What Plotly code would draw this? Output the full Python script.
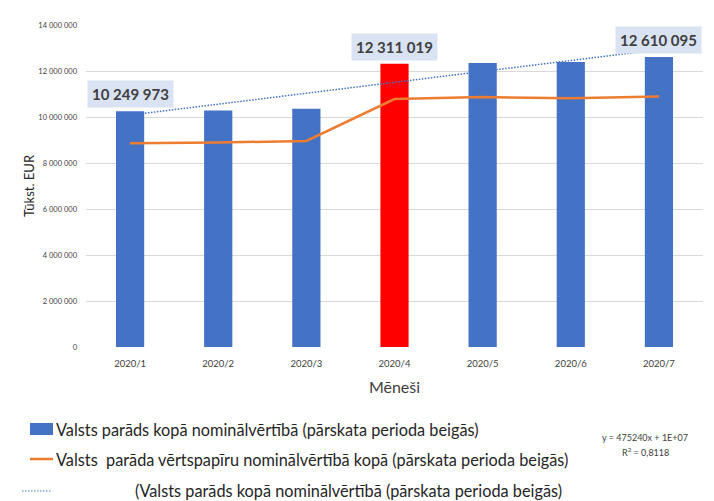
import numpy as np
import plotly.graph_objects as go

months = ["2020/1", "2020/2", "2020/3", "2020/4", "2020/5", "2020/6", "2020/7"]
debt_total = [10249973, 10280000, 10360000, 12311019, 12350000, 12390000, 12610095]
securities = [8860000, 8890000, 8960000, 10780000, 10870000, 10810000, 10890000]
bar_colors = ["#4472c4", "#4472c4", "#4472c4", "#ff0000", "#4472c4", "#4472c4", "#4472c4"]
labeled = [0, 3, 6]
y_ticks = [0, 2000000, 4000000, 6000000, 8000000, 10000000, 12000000, 14000000]

name_bar = "Valsts parāds kopā nominālvērtībā (pārskata perioda beigās)"
name_line = "Valsts  parāda vērtspapīru nominālvērtībā kopā (pārskata perioda beigās)"
name_trend = "(Valsts parāds kopā nominālvērtībā (pārskata perioda beigās)"
eq_text = "y = 475240x + 1E+07"
r2_text = "R<sup>2</sup> = 0,8118"

OFF = 8  # page body margin
W, H = 706, 493
L, R, T, B = 78, 11, 17, 154
PW, PH = W - L - R, H - T - B

def fx(px):
    return (px - OFF - L) / PW

def fy(py):
    return (H - B - (py - OFF)) / PH

FONT = "Lato, Carlito, Calibri, sans-serif"
TXT = "#262626"

xs = np.arange(1, len(months) + 1)
coef = np.polyfit(xs, debt_total, 1)
trend = np.polyval(coef, xs)

fig = go.Figure()
fig.add_trace(go.Bar(x=xs, y=debt_total, marker=dict(color=bar_colors, line=dict(width=0)),
                     width=0.32, name=name_bar, showlegend=False))
fig.add_trace(go.Scatter(x=xs, y=trend, mode="lines", line=dict(color="#4472c4", width=1.5, dash="1.5px,1.5px"),
                         name=name_trend, showlegend=False))
fig.add_trace(go.Scatter(x=xs, y=securities, mode="lines", line=dict(color="#ed7d31", width=2.5),
                         name=name_line, showlegend=False))

for i in labeled:
    v = debt_total[i]
    fig.add_annotation(x=xs[i], y=v, xref="x", yref="y",
                       text="<b>" + f"{v:,}".replace(",", " ") + "</b>",
                       showarrow=False, yanchor="middle", yshift=17,
                       font=dict(family=FONT, size=15, color="#404040"),
                       bgcolor="#dae3f3", borderpad=4)

# manual legend
fig.add_shape(type="rect", xref="paper", yref="paper", x0=fx(30), x1=fx(53), y0=fy(435), y1=fy(423),
              fillcolor="#4472c4", line=dict(width=0))
fig.add_shape(type="line", xref="paper", yref="paper", x0=fx(30), x1=fx(53), y0=fy(459), y1=fy(459),
              line=dict(color="#ed7d31", width=2.5))
fig.add_shape(type="line", xref="paper", yref="paper", x0=fx(22), x1=fx(52), y0=fy(491), y1=fy(491),
              line=dict(color="#4472c4", width=1.2, dash="1.5px,1.5px"))
for txt, px, py in [(name_bar, 54, 429), (name_line, 54, 459), (name_trend, 133, 490)]:
    fig.add_annotation(x=fx(px), y=fy(py), xref="paper", yref="paper", text=txt, showarrow=False,
                       xanchor="left", yanchor="middle",
                       font=dict(family=FONT, size=16.3, color=TXT))
fig.add_annotation(x=fx(645), y=fy(437), xref="paper", yref="paper", text=eq_text, showarrow=False,
                   xanchor="center", yanchor="middle", font=dict(family=FONT, size=9, color="#404040"))
fig.add_annotation(x=fx(645), y=fy(452), xref="paper", yref="paper", text=r2_text, showarrow=False,
                   xanchor="center", yanchor="middle", font=dict(family=FONT, size=9, color="#404040"))

fig.update_layout(
    width=W, height=H,
    margin=dict(l=L, r=R, t=T, b=B, autoexpand=False),
    plot_bgcolor="white", paper_bgcolor="white",
    showlegend=False,
    font=dict(family=FONT, color="#404040"),
)
fig.update_xaxes(range=[0.5, len(months) + 0.5], tickvals=list(xs), ticktext=months,
                 showgrid=False, zeroline=False, showline=False, ticks="", automargin=False,
                 ticklabelstandoff=9,
                 tickfont=dict(family=FONT, size=9.5, color="#404040"),
                 title=dict(text="Mēneši", font=dict(family=FONT, size=16, color="#404040"),
                            standoff=14))
fig.update_yaxes(range=[0, 14000000], tickvals=y_ticks,
                 ticktext=[f"{v:,}".replace(",", " ") for v in y_ticks],
                 showgrid=True, gridcolor="#d9d9d9", gridwidth=1, zeroline=False, showline=False,
                 ticks="", ticklabelstandoff=8, automargin=False,
                 tickfont=dict(family=FONT, size=7.5, color="#404040"),
                 title=dict(text="Tūkst. EUR", font=dict(family=FONT, size=13, color="#262626"),
                            standoff=0))

fig.write_html("out.html")
